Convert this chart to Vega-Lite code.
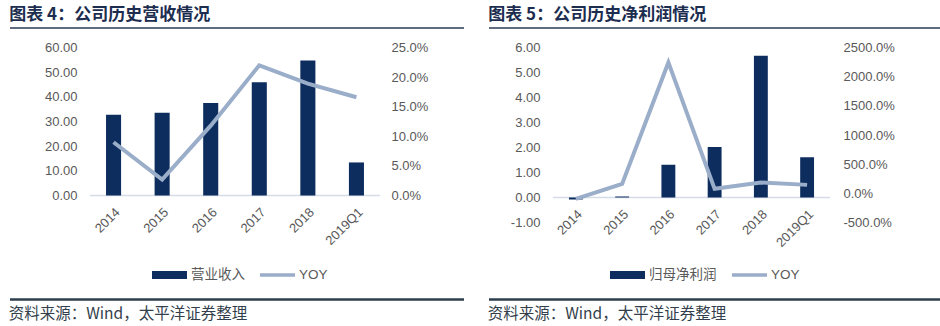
{
  "$schema": "https://vega.github.io/schema/vega-lite/v6.json",
  "background": "white",
  "padding": {"left": 8, "top": 6, "right": 0, "bottom": 0},
  "spacing": 21,
  "resolve": {"scale": {"x": "independent", "y": "independent", "color": "independent"}, "legend": {"color": "independent"}},
  "config": {
    "view": {"stroke": null},
    "locale": {"number": {"decimal": ".", "thousands": ",", "grouping": [3], "currency": ["$", ""], "minus": "-"}},
    "axis": {"labelFont": "Liberation Sans", "labelFontSize": 13, "labelColor": "#595959", "ticks": false, "grid": false, "title": null, "minExtent": 0}
  },
  "hconcat": [
    {
      "spacing": 7.5,
      "resolve": {"scale": {"x": "independent", "y": "independent", "color": "independent"}, "legend": {"color": "independent"}},
      "vconcat": [
        {
          "width": 454, "height": 6,
          "title": {"text": "图表 4：公司历史营收情况", "anchor": "start", "fontSize": 17, "fontWeight": "bold", "font": "Noto Sans CJK SC", "color": "#1c2d4f", "offset": 3},
          "data": {"values": [{}]},
          "mark": {"type": "rule", "color": "#2a3b55", "strokeWidth": 1.5},
          "encoding": {
            "x": {"datum": 0, "type": "quantitative", "scale": {"domain": [0, 1]}, "axis": null},
            "x2": {"datum": 1},
            "y": {"datum": 1, "type": "quantitative", "scale": {"domain": [0, 1]}, "axis": null}
          }
        },
        {
          "width": 454, "height": 148,
          "data": {"values": [
            {"p": "2014", "rev": 32.7, "yoy": 0.090},
            {"p": "2015", "rev": 33.5, "yoy": 0.027},
            {"p": "2016", "rev": 37.5, "yoy": 0.118},
            {"p": "2017", "rev": 45.9, "yoy": 0.220},
            {"p": "2018", "rev": 54.7, "yoy": 0.189},
            {"p": "2019Q1", "rev": 13.4, "yoy": 0.166}
          ]},
          "layer": [
            {
              "data": {"values": [{}]},
              "mark": {"type": "rule", "color": "#d5dce6", "strokeWidth": 1.5},
              "encoding": {
                "x": {"datum": 0, "type": "quantitative", "scale": {"domain": [0, 1], "range": [80, 370]}, "axis": null},
                "x2": {"datum": 1},
                "y": {"datum": 0, "type": "quantitative", "scale": {"domain": [0, 60], "nice": false}, "axis": null}
              }
            },
            {
              "mark": {"type": "bar"},
              "encoding": {
                "x": {"field": "p", "type": "nominal", "sort": null, "title": null,
                  "scale": {"type": "band", "range": [80, 370], "paddingInner": 0.69, "paddingOuter": 0.33},
                  "axis": {"labelAngle": -45, "domain": false, "labelPadding": 10}},
                "y": {"field": "rev", "type": "quantitative", "title": null,
                  "scale": {"domain": [0, 60], "nice": false},
                  "axis": {"orient": "left", "offset": -80, "values": [0, 10, 20, 30, 40, 50, 60], "format": ".2f", "domain": false, "labelPadding": 13}},
                "color": {"datum": "营业收入",
                  "scale": {"domain": ["营业收入", "YOY"], "range": ["#0c2d5e", "#9aadc9"]},
                  "legend": {"title": null, "orient": "none", "legendX": 142, "legendY": 210, "direction": "horizontal",
                    "symbolSize": 1225, "labelFontSize": 13.5, "labelFont": "Liberation Sans, Noto Sans CJK SC", "labelColor": "#595959",
                    "labelOffset": 4, "columnPadding": 15, "padding": 0,
                    "encode": {"symbols": {"update": {
                      "shape": {"signal": "datum.value === 'YOY' ? 'M-1,-0.1H1V0.1H-1Z' : 'M-1,-0.23H1V0.23H-1Z'"},
                      "fill": {"signal": "datum.value === 'YOY' ? '#9aadc9' : '#0c2d5e'"},
                      "strokeWidth": {"value": 0},
                      "opacity": {"value": 1}}}}}}
              }
            },
            {
              "mark": {"type": "line", "strokeWidth": 4},
              "encoding": {
                "x": {"field": "p", "type": "nominal", "sort": null, "title": null,
                  "scale": {"type": "band", "range": [80, 370], "paddingInner": 0.69, "paddingOuter": 0.33},
                  "axis": null},
                "y": {"field": "yoy", "type": "quantitative", "title": null,
                  "scale": {"domain": [0, 0.25], "nice": false},
                  "axis": {"orient": "right", "offset": -84, "values": [0, 0.05, 0.1, 0.15, 0.2, 0.25], "format": ".1%", "domain": false, "labelPadding": 11}},
                "color": {"datum": "YOY"}
              }
            }
          ],
          "resolve": {"scale": {"x": "independent", "y": "independent"}}
        },
        {
          "width": 454, "height": 10.5,
          "title": {"text": "资料来源：Wind，太平洋证券整理", "orient": "bottom", "anchor": "start", "fontSize": 15.5, "fontWeight": "normal", "font": "Noto Sans CJK SC", "color": "#333f4c", "offset": 6.5},
          "data": {"values": [{}]},
          "mark": {"type": "rule", "color": "#2d3e4c", "strokeWidth": 2.5},
          "encoding": {
            "x": {"datum": 0, "type": "quantitative", "scale": {"domain": [0, 1]}, "axis": null},
            "x2": {"datum": 1},
            "y": {"datum": 0, "type": "quantitative", "scale": {"domain": [0, 1]}, "axis": null}
          }
        }
      ]
    },
    {
      "spacing": 7.5,
      "resolve": {"scale": {"x": "independent", "y": "independent", "color": "independent"}, "legend": {"color": "independent"}},
      "vconcat": [
        {
          "width": 454, "height": 6,
          "title": {"text": "图表 5：公司历史净利润情况", "anchor": "start", "fontSize": 17, "fontWeight": "bold", "font": "Noto Sans CJK SC", "color": "#1c2d4f", "offset": 3},
          "data": {"values": [{}]},
          "mark": {"type": "rule", "color": "#2a3b55", "strokeWidth": 1.5},
          "encoding": {
            "x": {"datum": 0, "type": "quantitative", "scale": {"domain": [0, 1]}, "axis": null},
            "x2": {"datum": 1},
            "y": {"datum": 1, "type": "quantitative", "scale": {"domain": [0, 1]}, "axis": null}
          }
        },
        {
          "width": 454, "height": 175,
          "data": {"values": [
            {"p": "2014", "np": -0.08, "yoy": -0.95},
            {"p": "2015", "np": 0.04, "yoy": 1.62},
            {"p": "2016", "np": 1.31, "yoy": 22.44},
            {"p": "2017", "np": 2.02, "yoy": 0.77},
            {"p": "2018", "np": 5.67, "yoy": 1.85},
            {"p": "2019Q1", "np": 1.61, "yoy": 1.45}
          ]},
          "layer": [
            {
              "data": {"values": [{}]},
              "mark": {"type": "rule", "color": "#d5dce6", "strokeWidth": 1.5},
              "encoding": {
                "x": {"datum": 0, "type": "quantitative", "scale": {"domain": [0, 1], "range": [64, 341]}, "axis": null},
                "x2": {"datum": 1},
                "y": {"datum": 0, "type": "quantitative", "scale": {"domain": [-1, 6], "nice": false}, "axis": null}
              }
            },
            {
              "mark": {"type": "bar"},
              "encoding": {
                "x": {"field": "p", "type": "nominal", "sort": null, "title": null,
                  "scale": {"type": "band", "range": [64, 341], "paddingInner": 0.7, "paddingOuter": 0.345},
                  "axis": {"labelAngle": -45, "domain": false, "labelPadding": 10, "offset": -25}},
                "y": {"field": "np", "type": "quantitative", "title": null,
                  "scale": {"domain": [-1, 6], "nice": false},
                  "axis": {"orient": "left", "offset": -64, "values": [-1, 0, 1, 2, 3, 4, 5, 6], "format": ".2f", "domain": false, "labelPadding": 13}},
                "color": {"datum": "归母净利润",
                  "scale": {"domain": ["归母净利润", "YOY"], "range": ["#0c2d5e", "#9aadc9"]},
                  "legend": {"title": null, "orient": "none", "legendX": 121, "legendY": 210, "direction": "horizontal",
                    "symbolSize": 1225, "labelFontSize": 13.5, "labelFont": "Liberation Sans, Noto Sans CJK SC", "labelColor": "#595959",
                    "labelOffset": 4, "columnPadding": 15, "padding": 0,
                    "encode": {"symbols": {"update": {
                      "shape": {"signal": "datum.value === 'YOY' ? 'M-1,-0.1H1V0.1H-1Z' : 'M-1,-0.23H1V0.23H-1Z'"},
                      "fill": {"signal": "datum.value === 'YOY' ? '#9aadc9' : '#0c2d5e'"},
                      "strokeWidth": {"value": 0},
                      "opacity": {"value": 1}}}}}}
              }
            },
            {
              "mark": {"type": "line", "strokeWidth": 4},
              "encoding": {
                "x": {"field": "p", "type": "nominal", "sort": null, "title": null,
                  "scale": {"type": "band", "range": [64, 341], "paddingInner": 0.7, "paddingOuter": 0.345},
                  "axis": null},
                "y": {"field": "yoy", "type": "quantitative", "title": null,
                  "scale": {"domain": [-5, 25], "nice": false},
                  "axis": {"orient": "right", "offset": -113, "values": [-5, 0, 5, 10, 15, 20, 25], "format": ".1%", "domain": false, "labelPadding": 13}},
                "color": {"datum": "YOY"}
              }
            }
          ],
          "resolve": {"scale": {"x": "independent", "y": "independent"}}
        },
        {
          "width": 454, "height": 10.5,
          "title": {"text": "资料来源：Wind，太平洋证券整理", "orient": "bottom", "anchor": "start", "fontSize": 15.5, "fontWeight": "normal", "font": "Noto Sans CJK SC", "color": "#333f4c", "offset": 6.5},
          "data": {"values": [{}]},
          "mark": {"type": "rule", "color": "#2d3e4c", "strokeWidth": 2.5},
          "encoding": {
            "x": {"datum": 0, "type": "quantitative", "scale": {"domain": [0, 1]}, "axis": null},
            "x2": {"datum": 1},
            "y": {"datum": 0, "type": "quantitative", "scale": {"domain": [0, 1]}, "axis": null}
          }
        }
      ]
    }
  ]
}
